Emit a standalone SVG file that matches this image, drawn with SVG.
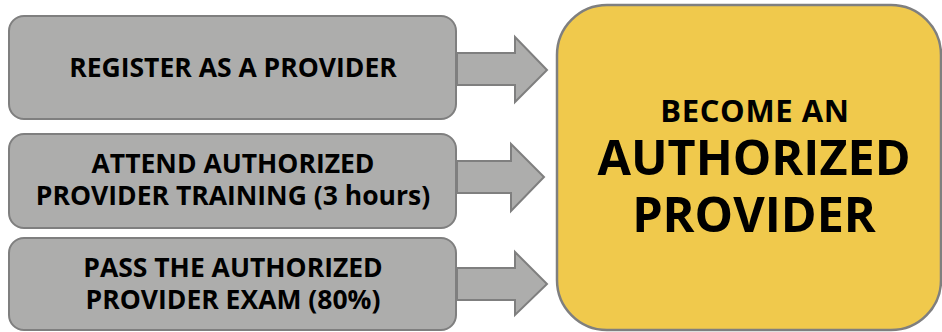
<svg xmlns="http://www.w3.org/2000/svg" width="942" height="332" viewBox="0 0 942 332">
<style>
.box{fill:#adadac;stroke:#7f7f7f;stroke-width:2}
.arrow{fill:#adadac;stroke:#7f7f7f;stroke-width:2;stroke-linejoin:miter}
.goal{fill:#f0c94c;stroke:#7f7f7f;stroke-width:2.5}
text{font-family:"Open Sans","Noto Sans",sans-serif;font-weight:bold;fill:#000;text-anchor:middle}
.s{font-size:26.5px}
.m{font-size:31px;letter-spacing:0.6px}
.l{font-size:48.5px}
</style>
<g id="connectors">
<path class="arrow" d="M457,53 H515 V37 L547,70 L515,102 V85 H457 Z"/>
<path class="arrow" d="M457,161 H511 V144 L544,177 L511,211 V193 H457 Z"/>
<path class="arrow" d="M457,268 H515 V252 L547,284 L515,315 V300 H457 Z"/>
</g>
<g id="node1">
<rect class="box" x="9" y="16" width="447" height="103" rx="15"/>
<text class="s" x="233" y="77">REGISTER AS A PROVIDER</text>
</g>
<g id="node2">
<rect class="box" x="9" y="134" width="447" height="94" rx="15"/>
<text class="s" x="233" y="173">ATTEND AUTHORIZED</text>
<text class="s" x="233" y="205">PROVIDER TRAINING (3 hours)</text>
</g>
<g id="node3">
<rect class="box" x="9" y="238" width="447" height="92" rx="15"/>
<text class="s" x="233" y="277">PASS THE AUTHORIZED</text>
<text class="s" x="233" y="309">PROVIDER EXAM (80%)</text>
</g>
<g id="goal">
<rect class="goal" x="557" y="5" width="384" height="325" rx="50"/>
<text class="m" x="755" y="122">BECOME AN</text>
<text class="l" x="754" y="175">AUTHORIZED</text>
<text class="l" x="754" y="232">PROVIDER</text>
</g>
</svg>
